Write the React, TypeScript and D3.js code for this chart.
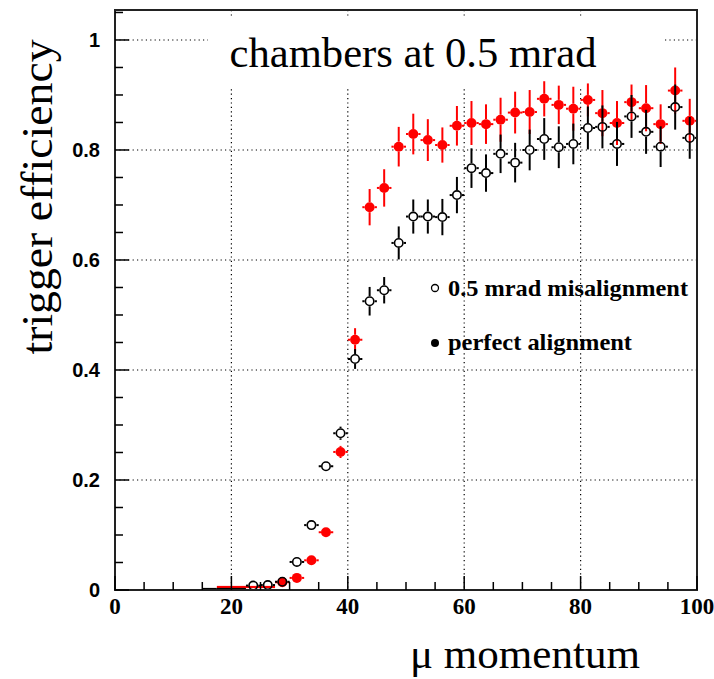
import React from "react";
import * as d3 from "d3";

const W = 714;
const H = 679;

const momentum = [16.25, 18.75, 21.25, 23.75, 26.25, 28.75, 31.25, 33.75, 36.25, 38.75, 41.25, 43.75, 46.25, 48.75, 51.25, 53.75, 56.25, 58.75, 61.25, 63.75, 66.25, 68.75, 71.25, 73.75, 76.25, 78.75, 81.25, 83.75, 86.25, 88.75, 91.25, 93.75, 96.25, 98.75];
const binHalfWidth = 1.25;

const misaligned = [0.0, 0.0, 0.0, 0.008, 0.009, 0.015, 0.051, 0.118, 0.225, 0.285, 0.42, 0.525, 0.545, 0.631, 0.679, 0.679, 0.678, 0.718, 0.767, 0.758, 0.793, 0.777, 0.8, 0.82, 0.805, 0.811, 0.84, 0.842, 0.811, 0.861, 0.833, 0.806, 0.878, 0.822];
const misalignedErr = [0, 0, 0, 0.002, 0.002, 0.003, 0.004, 0.006, 0.009, 0.012, 0.018, 0.026, 0.024, 0.03, 0.031, 0.031, 0.033, 0.033, 0.036, 0.034, 0.035, 0.036, 0.037, 0.038, 0.038, 0.037, 0.039, 0.039, 0.04, 0.039, 0.04, 0.037, 0.041, 0.038];

const perfect = [null, 0.0, 0.0, 0.0, 0.0, 0.014, 0.022, 0.054, 0.105, 0.251, 0.455, 0.696, 0.731, 0.806, 0.829, 0.818, 0.809, 0.844, 0.849, 0.847, 0.855, 0.868, 0.869, 0.893, 0.882, 0.875, 0.891, 0.867, 0.849, 0.887, 0.876, 0.847, 0.908, 0.853];
const perfectErr = [null, 0, 0, 0, 0, 0.003, 0.004, 0.005, 0.009, 0.011, 0.021, 0.033, 0.034, 0.036, 0.037, 0.038, 0.032, 0.036, 0.04, 0.036, 0.04, 0.038, 0.04, 0.032, 0.035, 0.04, 0.03, 0.042, 0.04, 0.032, 0.042, 0.036, 0.042, 0.04];

const xTicks = [0, 20, 40, 60, 80, 100];
const xTickLabels = ["0", "20", "40", "60", "80", "100"];
const yTicks = [0, 0.2, 0.4, 0.6, 0.8, 1];
const yTickLabels = ["0", "0.2", "0.4", "0.6", "0.8", "1"];

const title = "chambers at 0.5 mrad";
const xTitle = "\u03bc momentum";
const yTitle = "trigger efficiency";
const legendLabels = ["0.5 mrad misalignment", "perfect alignment"];

const x = d3.scaleLinear().domain([0, 100]).range([115, 697]);
const y = d3.scaleLinear().domain([0, 1.0545]).range([590, 10]);

type Pt = { m: number; v: number; e: number };

function Series({ pts, color, filled, zeroOffset }: { pts: Pt[]; color: string; filled: boolean; zeroOffset: number }) {
  const r = 5;
  return (
    <g>
      {pts.map((p, i) => {
        const cx = x(p.m);
        const x0 = x(p.m - binHalfWidth);
        const x1 = x(p.m + binHalfWidth);
        if (p.v === 0) {
          const cy0 = y(0) - zeroOffset;
          return <line key={i} x1={x0} x2={x1} y1={cy0} y2={cy0} stroke={color} strokeWidth={2.2} />;
        }
        const cy = y(p.v);
        const yTop = y(p.v + p.e);
        const yBot = y(p.v - p.e);
        const segs: [number, number, number, number][] = [];
        if (cx - x0 > r) segs.push([x0, cy, cx - r, cy]);
        if (x1 - cx > r) segs.push([cx + r, cy, x1, cy]);
        if (cy - yTop > r) segs.push([cx, yTop, cx, cy - r]);
        if (yBot - cy > r) segs.push([cx, cy + r, cx, yBot]);
        return (
          <g key={i}>
            {segs.map((s, j) => (
              <line key={j} x1={s[0]} y1={s[1]} x2={s[2]} y2={s[3]} stroke={color} strokeWidth={2} />
            ))}
            {filled ? (
              <circle cx={cx} cy={cy} r={r} fill={color} />
            ) : (
              <circle cx={cx} cy={cy} r={r - 0.8} fill="none" stroke={color} strokeWidth={1.6} />
            )}
          </g>
        );
      })}
    </g>
  );
}

export default function App() {
  const blackPts: Pt[] = momentum.map((m, i) => ({ m, v: misaligned[i], e: misalignedErr[i] }));
  const redPts: Pt[] = momentum
    .map((m, i) => ({ m, v: perfect[i] as number, e: perfectErr[i] as number }))
    .filter((p) => p.v !== null && p.v !== undefined);

  const xMinor = d3.range(0, 100.01, 5);
  const yMinor = d3.range(0, 1.051, 0.05);
  const [xl, xr] = x.range();
  const [yb, yt] = y.range();

  return (
    <svg width={W} height={H} style={{ position: "absolute", left: 0, top: 0, background: "#fff" }}>
      <rect x={0} y={0} width={W} height={H} fill="#fff" />
      {/* grid */}
      <g stroke="#000" strokeWidth={1.2} strokeDasharray="1.2,3.2">
        {yTicks.filter((t) => t > 0).map((t) => (
          <line key={"gy" + t} x1={xl} x2={xr} y1={y(t)} y2={y(t)} />
        ))}
        {xTicks.filter((t) => t > 0 && t < 100).map((t) => (
          <line key={"gx" + t} x1={x(t)} x2={x(t)} y1={yt} y2={yb} />
        ))}
      </g>
      {/* title box */}
      <rect x={208} y={17} width={457} height={69} fill="#fff" />
      <text x={413} y={67} textAnchor="middle" fontFamily="'Liberation Serif', 'DejaVu Serif', serif" fontSize={42} textLength={367} lengthAdjust="spacingAndGlyphs">
        {title}
      </text>
      {/* data */}
      <Series pts={redPts} color="#ff0000" filled={true} zeroOffset={3} />
      <Series pts={blackPts} color="#000" filled={false} zeroOffset={1} />
      {/* frame */}
      <rect x={xl} y={yt} width={xr - xl} height={yb - yt} fill="none" stroke="#222" strokeWidth={2} />
      {/* ticks */}
      <g stroke="#000" strokeWidth={1.5}>
        {xMinor.map((t) => (
          <line key={"xt" + t} x1={x(t)} x2={x(t)} y1={yb} y2={yb - (t % 20 === 0 ? 14 : 8)} />
        ))}
        {yMinor.map((t, i) => (
          <line key={"yt" + i} x1={xl} x2={xl + (i % 4 === 0 ? 14 : 8)} y1={y(t)} y2={y(t)} />
        ))}
      </g>
      {/* tick labels */}
      <g fontFamily="'Liberation Serif', serif" fontWeight="bold" fontSize={23} textAnchor="middle">
        {xTicks.map((t, i) => (
          <text key={"xl" + t} x={x(t)} y={614}>
            {xTickLabels[i]}
          </text>
        ))}
      </g>
      <g fontFamily="'Liberation Sans', Arial, sans-serif" fontWeight="bold" fontSize={20} textAnchor="end">
        {yTicks.map((t, i) => (
          <text key={"yl" + t} x={100} y={y(t) + 7}>
            {yTickLabels[i]}
          </text>
        ))}
      </g>
      {/* legend */}
      <g fontFamily="'Liberation Serif', serif" fontWeight="bold" fontSize={23}>
        <circle cx={435} cy={288} r={3.5} fill="none" stroke="#000" strokeWidth={1.3} />
        <text x={448} y={296} textLength={240} lengthAdjust="spacingAndGlyphs">{legendLabels[0]}</text>
        <circle cx={435} cy={343} r={4} fill="#000" />
        <text x={448} y={350} textLength={184} lengthAdjust="spacingAndGlyphs">{legendLabels[1]}</text>
      </g>
      {/* axis titles */}
      <text x={525} y={668} textAnchor="middle" fontFamily="'Liberation Serif', serif" fontSize={43} textLength={230} lengthAdjust="spacingAndGlyphs">
        {xTitle}
      </text>
      <text transform="translate(52,197) rotate(-90)" textAnchor="middle" fontFamily="'Liberation Serif', serif" fontSize={44} textLength={315} lengthAdjust="spacingAndGlyphs">
        {yTitle}
      </text>
    </svg>
  );
}
